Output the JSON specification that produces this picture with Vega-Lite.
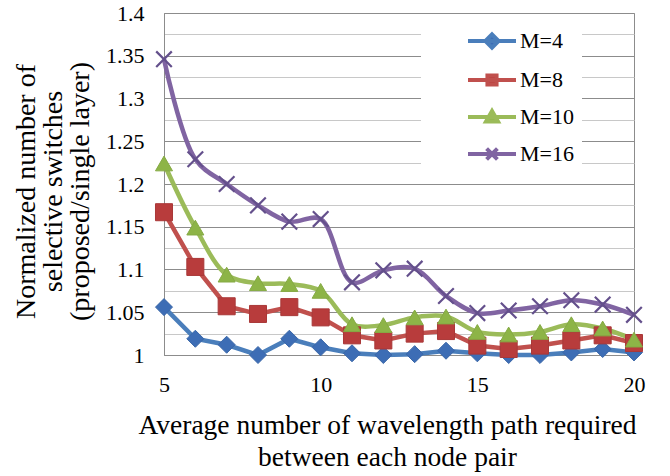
{
  "$schema": "https://vega.github.io/schema/vega-lite/v6.json",
  "width": 470,
  "height": 342,
  "autosize": "none",
  "padding": {"left": 164, "top": 13, "right": 36, "bottom": 121},
  "background": "white",
  "config": {
    "font": "Liberation Serif",
    "view": {"stroke": "#8c8c8c", "strokeWidth": 1}
  },
  "data": {
    "values": [
      {"x": 5, "s": "M=4", "y": 1.056}, {"x": 6, "s": "M=4", "y": 1.019}, {"x": 7, "s": "M=4", "y": 1.012}, {"x": 8, "s": "M=4", "y": 1.0},
      {"x": 9, "s": "M=4", "y": 1.019}, {"x": 10, "s": "M=4", "y": 1.009}, {"x": 11, "s": "M=4", "y": 1.002}, {"x": 12, "s": "M=4", "y": 1.0},
      {"x": 13, "s": "M=4", "y": 1.001}, {"x": 14, "s": "M=4", "y": 1.005}, {"x": 15, "s": "M=4", "y": 1.002}, {"x": 16, "s": "M=4", "y": 1.0},
      {"x": 17, "s": "M=4", "y": 1.0}, {"x": 18, "s": "M=4", "y": 1.003}, {"x": 19, "s": "M=4", "y": 1.007}, {"x": 20, "s": "M=4", "y": 1.003},
      {"x": 5, "s": "M=8", "y": 1.167}, {"x": 6, "s": "M=8", "y": 1.103}, {"x": 7, "s": "M=8", "y": 1.057}, {"x": 8, "s": "M=8", "y": 1.048},
      {"x": 9, "s": "M=8", "y": 1.056}, {"x": 10, "s": "M=8", "y": 1.044}, {"x": 11, "s": "M=8", "y": 1.023}, {"x": 12, "s": "M=8", "y": 1.017},
      {"x": 13, "s": "M=8", "y": 1.025}, {"x": 14, "s": "M=8", "y": 1.028}, {"x": 15, "s": "M=8", "y": 1.011}, {"x": 16, "s": "M=8", "y": 1.007},
      {"x": 17, "s": "M=8", "y": 1.011}, {"x": 18, "s": "M=8", "y": 1.017}, {"x": 19, "s": "M=8", "y": 1.023}, {"x": 20, "s": "M=8", "y": 1.014},
      {"x": 5, "s": "M=10", "y": 1.224}, {"x": 6, "s": "M=10", "y": 1.149}, {"x": 7, "s": "M=10", "y": 1.094}, {"x": 8, "s": "M=10", "y": 1.084},
      {"x": 9, "s": "M=10", "y": 1.083}, {"x": 10, "s": "M=10", "y": 1.075}, {"x": 11, "s": "M=10", "y": 1.036}, {"x": 12, "s": "M=10", "y": 1.035},
      {"x": 13, "s": "M=10", "y": 1.044}, {"x": 14, "s": "M=10", "y": 1.045}, {"x": 15, "s": "M=10", "y": 1.027}, {"x": 16, "s": "M=10", "y": 1.024},
      {"x": 17, "s": "M=10", "y": 1.027}, {"x": 18, "s": "M=10", "y": 1.036}, {"x": 19, "s": "M=10", "y": 1.031}, {"x": 20, "s": "M=10", "y": 1.018},
      {"x": 5, "s": "M=16", "y": 1.346}, {"x": 6, "s": "M=16", "y": 1.229}, {"x": 7, "s": "M=16", "y": 1.2}, {"x": 8, "s": "M=16", "y": 1.175},
      {"x": 9, "s": "M=16", "y": 1.156}, {"x": 10, "s": "M=16", "y": 1.159}, {"x": 11, "s": "M=16", "y": 1.085}, {"x": 12, "s": "M=16", "y": 1.099},
      {"x": 13, "s": "M=16", "y": 1.101}, {"x": 14, "s": "M=16", "y": 1.069}, {"x": 15, "s": "M=16", "y": 1.049}, {"x": 16, "s": "M=16", "y": 1.052},
      {"x": 17, "s": "M=16", "y": 1.057}, {"x": 18, "s": "M=16", "y": 1.064}, {"x": 19, "s": "M=16", "y": 1.059}, {"x": 20, "s": "M=16", "y": 1.047}
    ]
  },
  "encoding": {
    "x": {
      "field": "x", "type": "quantitative",
      "scale": {"domain": [5, 20], "nice": false, "zero": false},
      "axis": {
        "values": [5, 10, 15, 20], "grid": false, "ticks": false, "tickSize": 0,
        "domainColor": "#8c8c8c", "labelFlush": false, "labelOverlap": false,
        "labelFont": "Liberation Serif", "labelFontSize": 22, "labelColor": "black", "labelPadding": 19,
        "title": ["Average number of wavelength path required", "between each node pair"],
        "titleFont": "Liberation Serif", "titleFontSize": 27.5, "titleFontWeight": "normal", "titleColor": "black",
        "titleLineHeight": 32, "titleX": 223, "titleY": 78, "titleBaseline": "alphabetic", "titleAlign": "center"
      }
    },
    "y": {
      "field": "y", "type": "quantitative",
      "scale": {"domain": [1, 1.4], "nice": false, "zero": false},
      "axis": {
        "values": [1, 1.025, 1.05, 1.075, 1.1, 1.125, 1.15, 1.175, 1.2, 1.225, 1.25, 1.275, 1.3, 1.325, 1.35, 1.375, 1.4],
        "format": "~g",
        "labelExpr": "abs(datum.value*20 - round(datum.value*20)) < 0.01 ? datum.label : ''",
        "grid": true,
        "gridColor": {"condition": {"test": "abs(datum.value*20 - round(datum.value*20)) < 0.01", "value": "#8c8c8c"}, "value": "#c8c8c8"},
        "gridWidth": 1,
        "ticks": false, "tickSize": 0, "domainColor": "#8c8c8c", "labelFlush": false, "labelOverlap": false,
        "labelFont": "Liberation Serif", "labelFontSize": 22, "labelColor": "black", "labelPadding": 20,
        "title": ["Normalized number of", "selective switches", "(proposed/single layer)"],
        "titleFont": "Liberation Serif", "titleFontSize": 28, "titleFontWeight": "normal", "titleColor": "black",
        "titleLineHeight": 27, "titleX": -138, "titleY": 178, "titleBaseline": "middle", "titleAlign": "center", "titleAngle": -90
      }
    }
  },
  "layer": [
    {
      "transform": [{"filter": "datum.s === 'M=4' || datum.s === 'M=8'"}],
      "mark": {"type": "line", "strokeWidth": 4.5, "interpolate": "linear"},
      "encoding": {
        "color": {
          "field": "s", "type": "nominal",
          "scale": {"domain": ["M=4", "M=8", "M=10", "M=16"], "range": ["#4A7EBB", "#C0504D", "#9BBB59", "#8064A2"]},
          "legend": {
            "title": null, "orient": "none", "legendX": 257, "legendY": 6,
            "fillColor": "white", "padding": 8, "symbolSize": 576, "symbolStrokeWidth": 4,
            "symbolType": "stroke", "symbolOffset": 49,
            "labelFont": "Liberation Serif", "labelFontSize": 22, "labelColor": "black",
            "labelOffset": 14, "rowPadding": 10,
            "labelExpr": "datum.label + '\u00a0\u00a0\u00a0\u00a0\u00a0\u00a0\u00a0\u00a0'",
            "encode": {
              "symbols": {
                "update": {
                  "shape": {"signal": "datum.value === 'M=4' ? 'M-2,0H2M0,-0.55L0.55,0L0,0.55L-0.55,0Z' : datum.value === 'M=8' ? 'M-2,0H2M-0.38,-0.38H0.38V0.38H-0.38Z' : datum.value === 'M=10' ? 'M-2,0H2M0,-0.5L0.5,0.38H-0.5Z' : 'M-2,0H2M-0.45,-0.45L0.45,0.45M-0.45,0.45L0.45,-0.45'"},
                  "fill": {"signal": "datum.value === 'M=4' ? '#3D6DB5' : datum.value === 'M=8' ? '#B83C3C' : datum.value === 'M=10' ? '#8DB447' : 'transparent'"}
                }
              }
            }
          }
        }
      }
    },
    {
      "transform": [{"filter": "datum.s === 'M=10' || datum.s === 'M=16'"}],
      "mark": {"type": "line", "strokeWidth": 4.5, "interpolate": "catmull-rom"},
      "encoding": {
        "color": {"field": "s", "type": "nominal"}
      }
    },
    {
      "transform": [{"filter": "datum.s !== 'M=16'"}],
      "mark": {"type": "point", "filled": true, "size": 290, "strokeWidth": 1, "opacity": 1},
      "encoding": {
        "shape": {"field": "s", "type": "nominal", "legend": null,
          "scale": {"domain": ["M=4", "M=8", "M=10"], "range": ["diamond", "square", "triangle-up"]}},
        "fill": {"field": "s", "type": "nominal", "legend": null,
          "scale": {"domain": ["M=4", "M=8", "M=10"], "range": ["#3D6DB5", "#B83C3C", "#8DB447"]}},
        "stroke": {"field": "s", "type": "nominal", "legend": null,
          "scale": {"domain": ["M=4", "M=8", "M=10"], "range": ["#3A67A8", "#A93838", "#85AA44"]}}
      }
    },
    {
      "transform": [{"filter": "datum.s === 'M=16'"}],
      "mark": {"type": "point", "filled": false, "shape": "M-0.9,-0.9L0.9,0.9M-0.9,0.9L0.9,-0.9", "size": 300, "strokeWidth": 2.2, "color": "#64508C", "opacity": 1},
      "encoding": {}
    }
  ]
}
